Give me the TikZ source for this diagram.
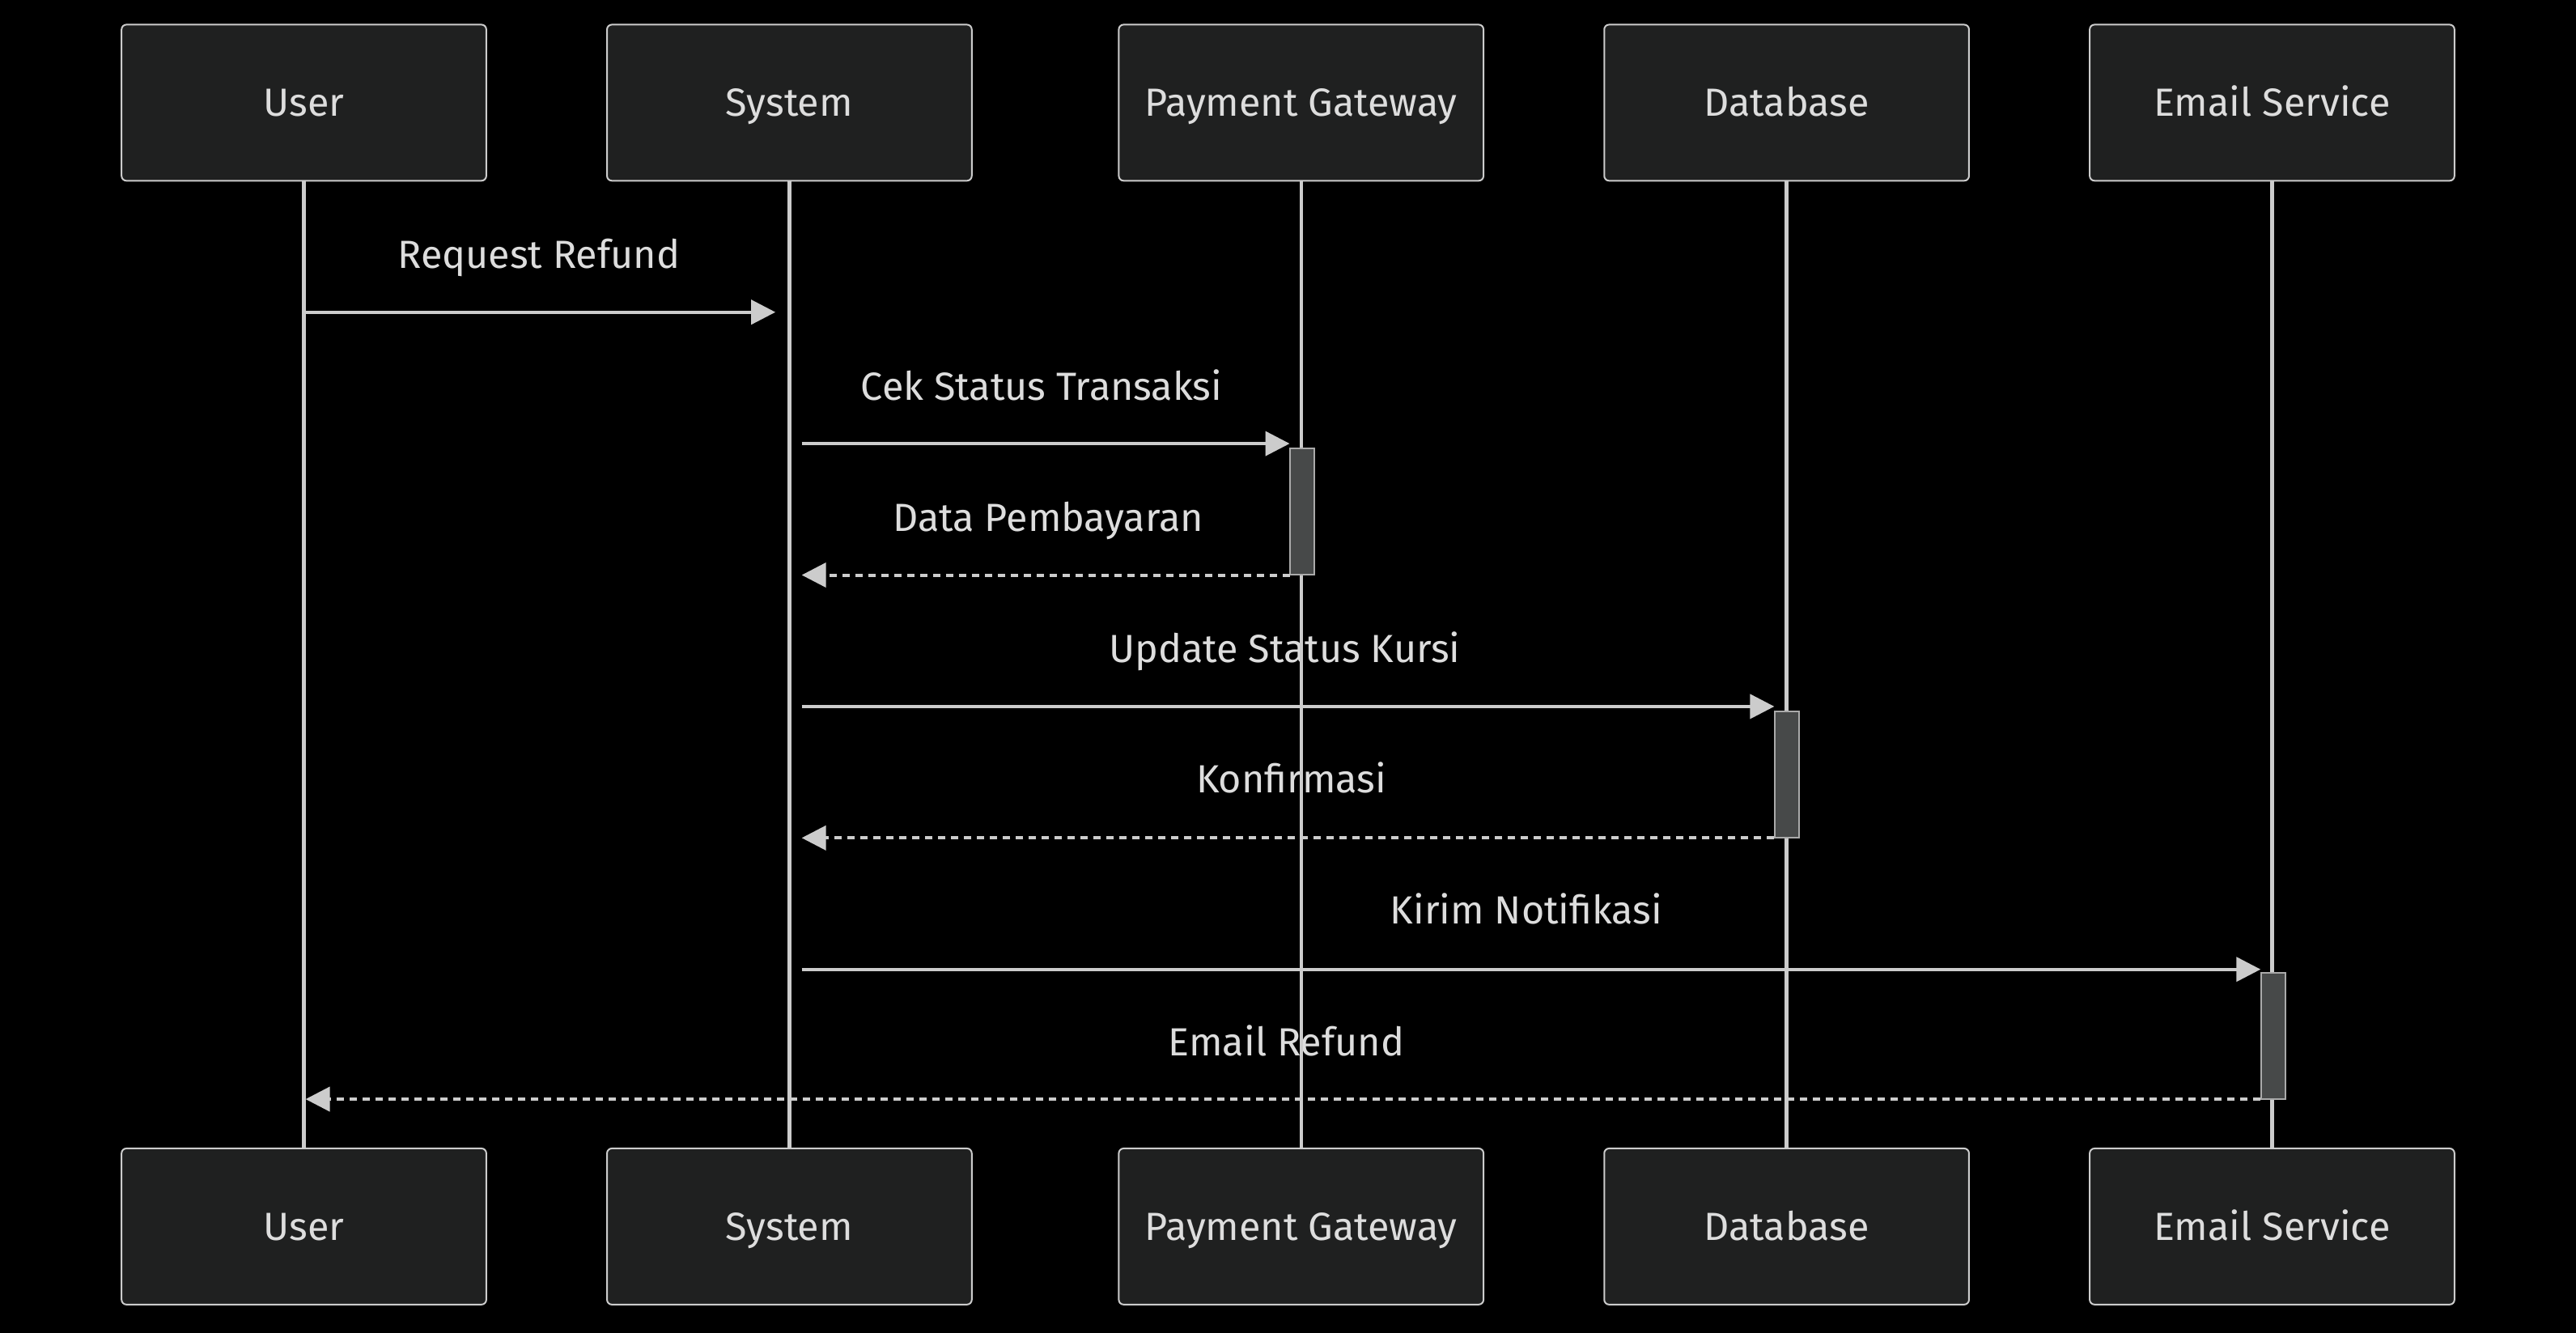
\documentclass[tikz,border=0pt]{standalone}
\usepackage{fontspec}
\setmainfont{Fira Sans}
\usetikzlibrary{arrows.meta}
\definecolor{bg}{HTML}{000000}
\definecolor{boxfill}{HTML}{1F2020}
\definecolor{fg}{HTML}{CCCCCC}
\definecolor{txt}{HTML}{DDDDDD}
\definecolor{actfill}{HTML}{474949}
\definecolor{actdraw}{HTML}{AAAAAA}
\begin{document}
\begin{tikzpicture}[x=2.03pt,y=-2.03pt,
  actor/.style={draw=fg, fill=boxfill, rounded corners=6pt, line width=2pt,
    minimum width=450.7pt, minimum height=192.9pt, text=txt,
    font=\fontsize{48.5}{56}\selectfont, inner sep=0pt, text height=34pt, text depth=0pt},
  life/.style={draw=fg, line width=4.5pt},
  msg/.style={draw=fg, line width=4pt, -{Triangle[length=30pt,width=30pt]}},
  ret/.style={msg, dash pattern=on 9pt off 7pt},
  lbl/.style={text=txt, font=\fontsize{48.5}{56}\selectfont, inner sep=0pt, text height=34pt, text depth=0pt},
  actbox/.style={draw=actdraw, fill=actfill, line width=2pt, minimum width=30pt, inner sep=0pt}
]
\fill[bg] (0,0) rectangle (1568,811.33);
\useasboundingbox (0,0) rectangle (1568,811.33);

% actors top
\node[actor] (u1) at (185,62.5) {User};
\node[actor] (s1) at (480.5,62.5) {System};
\node[actor] (p1) at (792,62.5) {Payment Gateway};
\node[actor] (d1) at (1087.5,62.5) {Database};
\node[actor] (e1) at (1383,62.5) {Email Service};
% actors bottom
\node[actor] (u2) at (185,746.5) {User};
\node[actor] (s2) at (480.5,746.5) {System};
\node[actor] (p2) at (792,746.5) {Payment Gateway};
\node[actor] (d2) at (1087.5,746.5) {Database};
\node[actor] (e2) at (1383,746.5) {Email Service};

% message labels
\node[lbl] (l1) at (328,155) {Request Refund};
\node[lbl] (l2) at (634,235) {Cek Status Transaksi};
\node[lbl] (l3) at (638,315) {Data Pembayaran};
\node[lbl] (l4) at (782,395) {Update Status Kursi};
\node[lbl] (l5) at (786,474) {Konfirmasi};
\node[lbl] (l6) at (929,554) {Kirim Notifikasi};
\node[lbl] (l7) at (783,634) {Email Refund};

% lifelines
\draw[life] (u1.south) -- (u2.north);
\draw[life] (s1.south) -- (s2.north);
\draw[life] (p1.south) -- (p2.north);
\draw[life] (d1.south) -- (d2.north);
\draw[life] (e1.south) -- (e2.north);

% activations
\node[actbox, minimum height=156.3pt] (pa) at (792.5,311.5) {};
\node[actbox, minimum height=156.3pt] (da) at (1087.5,471.5) {};
\node[actbox, minimum height=156.3pt] (ea) at (1383.5,630.5) {};

% message endpoints
\coordinate (m1a) at (185,190);   \coordinate (m1b) at (472,190);
\coordinate (m2a) at (488,270);   \coordinate (m2b) at (785,270);
\coordinate (m3a) at (785,350);   \coordinate (m3b) at (488,350);
\coordinate (m4a) at (488,430);   \coordinate (m4b) at (1080,430);
\coordinate (m5a) at (1080,510);  \coordinate (m5b) at (488,510);
\coordinate (m6a) at (488,590);   \coordinate (m6b) at (1376,590);
\coordinate (m7a) at (1376,669);  \coordinate (m7b) at (186,669);

\draw[msg] (m1a) -- (m1b);
\draw[msg] (m2a) -- (m2b);
\draw[ret] (m3a) -- (m3b);
\draw[msg] (m4a) -- (m4b);
\draw[ret] (m5a) -- (m5b);
\draw[msg] (m6a) -- (m6b);
\draw[ret] (m7a) -- (m7b);
\end{tikzpicture}
\end{document}
